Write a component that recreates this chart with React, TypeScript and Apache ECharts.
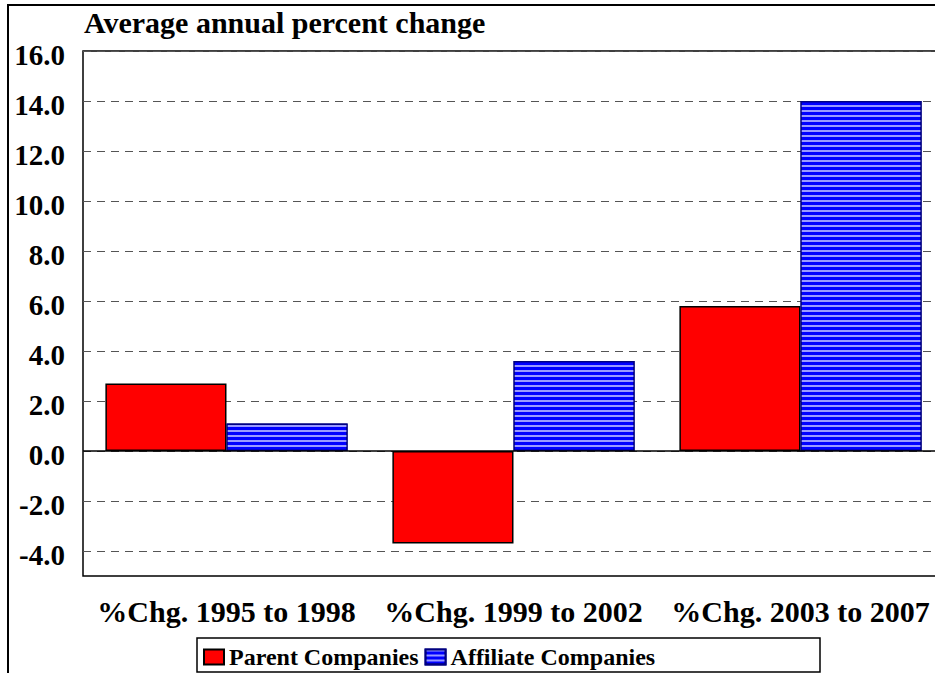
import React, { useEffect, useRef } from "react";
import * as echarts from "echarts";

const categories = ["%Chg. 1995 to 1998", "%Chg. 1999 to 2002", "%Chg. 2003 to 2007"];
const parentValues = [2.7, -3.7, 5.8];
const affiliateValues = [1.1, 3.6, 14.0];
const yTickValues = [-4, -2, 0, 2, 4, 6, 8, 10, 12, 14, 16];
const titleText = "Average annual percent change";
const seriesNames = ["Parent Companies", "Affiliate Companies"];

const FONT = "'Liberation Serif', 'Times New Roman', serif";

export default function App() {
  const ref = useRef<HTMLDivElement>(null);
  useEffect(() => {
    if (!ref.current) return;
    const chart = echarts.init(ref.current, undefined, { renderer: "svg" });
    const option: any = {
      animation: false,
      backgroundColor: "#ffffff",
      title: {
        text: titleText,
        left: 84,
        top: 7,
        padding: 0,
        textStyle: { fontFamily: FONT, fontSize: 30, fontWeight: "bold", color: "#000" },
      },
      graphic: [
        {
          type: "rect",
          shape: { x: 8, y: 5, width: 980, height: 700 },
          style: { fill: "none", stroke: "#000", lineWidth: 2 },
          silent: true,
        },
        {
          type: "rect",
          shape: { x: 197, y: 638, width: 623, height: 34 },
          style: { fill: "none", stroke: "#000", lineWidth: 1.5 },
          silent: true,
        },
      ],
      legend: {
        left: 203,
        top: 645,
        padding: 0,
        icon: "rect",
        itemWidth: 20,
        itemHeight: 15,
        itemGap: 6,
        data: seriesNames,
        textStyle: { fontFamily: FONT, fontSize: 24, fontWeight: "bold", color: "#000" },
      },
      grid: {
        left: 83,
        top: 51,
        width: 861,
        height: 525,
        show: true,
        borderColor: "#000",
        borderWidth: 1.5,
        backgroundColor: "transparent",
      },
      xAxis: {
        type: "category",
        data: categories,
        axisLine: { show: false, onZero: false },
        axisTick: { show: false },
        axisLabel: {
          margin: 20,
          fontFamily: FONT,
          fontSize: 30,
          fontWeight: "bold",
          color: "#000",
          interval: 0,
        },
      },
      yAxis: {
        type: "value",
        min: -5,
        max: 16,
        axisLine: { show: false },
        axisTick: { show: false, customValues: yTickValues },
        axisLabel: {
          customValues: yTickValues,
          margin: 18,
          color: "#000",
          formatter: (v: number) => "{v|" + v.toFixed(1) + "}",
          rich: {
            v: {
              fontFamily: FONT,
              fontSize: 29,
              fontWeight: "bold",
              color: "#000",
              padding: [8, 0, 0, 0],
            },
          },
        },
        splitLine: {
          show: true,
          lineStyle: { color: "#555", type: [8, 6], width: 1.2 },
        },
      },
      series: [
        {
          name: seriesNames[0],
          type: "bar",
          data: parentValues,
          barGap: "0%",
          barCategoryGap: "15.6%",
          itemStyle: { color: "#ff0000", borderColor: "#000", borderWidth: 1.5 },
          markLine: {
            silent: true,
            symbol: "none",
            label: { show: false },
            lineStyle: { color: "#000", type: "solid", width: 1.5 },
            data: [{ yAxis: 0 }],
          },
        },
        {
          name: seriesNames[1],
          type: "bar",
          data: affiliateValues,
          itemStyle: {
            color: "#0000ff",
            borderColor: "#000080",
            borderWidth: 1.2,
            decal: {
              symbol: "rect",
              symbolSize: 1,
              color: "rgba(170,170,255,0.9)",
              dashArrayX: [1, 0],
              dashArrayY: [1.5, 2.5],
              rotation: 0,
            },
          },
        },
      ],
    };
    chart.setOption(option);
    return () => chart.dispose();
  }, []);
  return (
    <div
      style={{
        position: "absolute",
        left: 0,
        top: 0,
        width: 935,
        height: 673,
        overflow: "hidden",
      }}
    >
      <div ref={ref} style={{ width: 980, height: 673 }} />
    </div>
  );
}
